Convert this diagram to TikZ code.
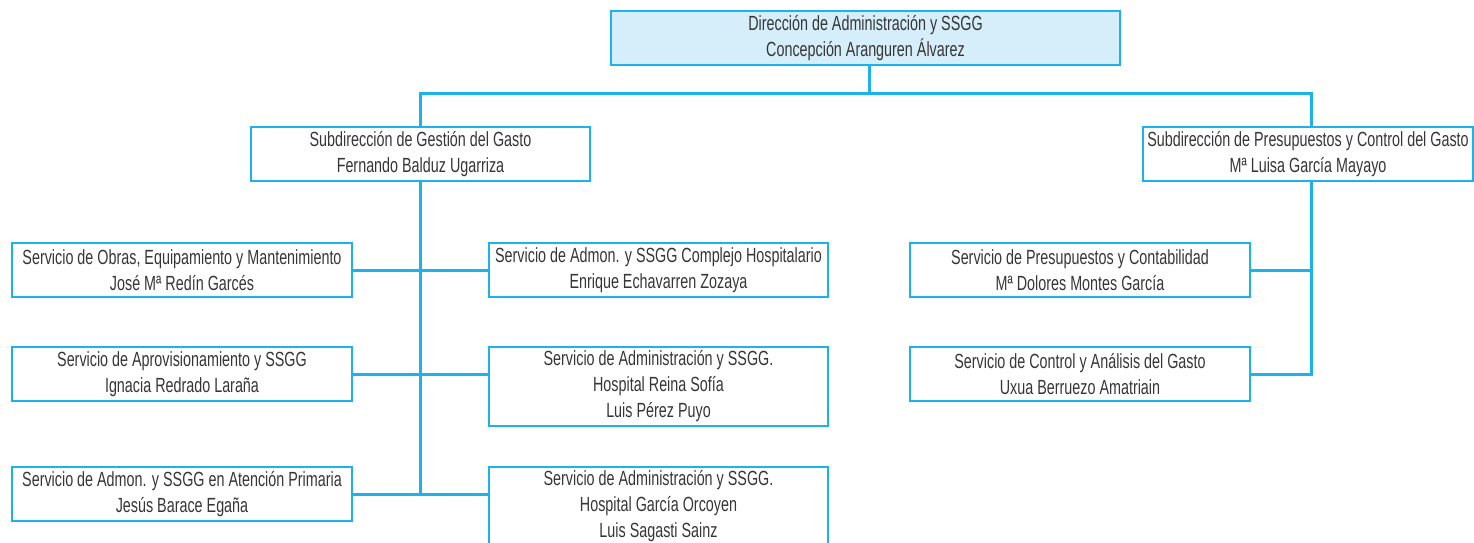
\documentclass[tikz,border=0pt]{standalone}
\usepackage{fontspec}
\setmainfont[FakeStretch=0.7]{Liberation Sans}
\definecolor{lineblue}{HTML}{1BB3E9}
\definecolor{topfill}{HTML}{D5EEF9}
\definecolor{txt}{HTML}{363636}
\begin{document}
\begin{tikzpicture}[x=1pt,y=-1pt,
  box/.style={draw=lineblue, line width=1.4pt, rectangle, inner sep=0pt, align=center,
    text=txt, font=\fontsize{20.5}{26}\selectfont},
  conn/.style={draw=lineblue, line width=3pt}]
\useasboundingbox (0,0) rectangle (1474,542);
\node[box, fill=topfill, minimum width=509pt, minimum height=54pt] (top) at (865.5,38) {Dirección de Administración y SSGG\\Concepción Aranguren Álvarez};
\node[box, minimum width=339pt, minimum height=54pt] (gest) at (420.5,154) {Subdirección de Gestión del Gasto\\Fernando Balduz Ugarriza};
\node[box, minimum width=330pt, minimum height=54pt] (pres) at (1308,154) {Subdirección de Presupuestos y Control del Gasto\\Mª Luisa García Mayayo};
\node[box, minimum width=340pt, minimum height=54pt] (L1) at (182,270) {Servicio de Obras, Equipamiento y Mantenimiento\\José Mª Redín Garcés};
\node[box, minimum width=340pt, minimum height=54pt] (L2) at (182,374) {Servicio de Aprovisionamiento y SSGG\\Ignacia Redrado Laraña};
\node[box, minimum width=340pt, minimum height=54pt] (L3) at (182,494) {Servicio de Admon. y SSGG en Atención Primaria\\Jesús Barace Egaña};
\node[box, minimum width=339pt, minimum height=54pt] (R1) at (658.5,270) {Servicio de Admon. y SSGG Complejo Hospitalario\\Enrique Echavarren Zozaya};
\node[box, minimum width=339pt, minimum height=79pt] (R2) at (658.5,386.5) {Servicio de Administración y SSGG.\\Hospital Reina Sofía\\Luis Pérez Puyo};
\node[box, minimum width=339pt, minimum height=79pt] (R3) at (658.5,506.5) {Servicio de Administración y SSGG.\\Hospital García Orcoyen\\Luis Sagasti Sainz};
\node[box, minimum width=340pt, minimum height=54pt] (P1) at (1080,270) {Servicio de Presupuestos y Contabilidad\\Mª Dolores Montes García};
\node[box, minimum width=340pt, minimum height=54pt] (P2) at (1080,374) {Servicio de Control y Análisis del Gasto\\Uxua Berruezo Amatriain};
\coordinate (tj) at (869,93);
\coordinate (pj) at (1311,93);
\coordinate (gj) at (420,93);
\draw[conn] (top.south -| tj) -- (tj);
\draw[conn] (gest.north -| gj) -- (gj) -- (pj) -- (pres.north -| pj);
\draw[conn] (gest.south -| gj) -- (L3.east -| gj);
\draw[conn] (L1.east) -- (R1.west);
\draw[conn] (L2.east) -- (L2.east -| R2.west);
\draw[conn] (L3.east) -- (L3.east -| R3.west);
\draw[conn] (pres.south -| pj) -- (P2.east -| pj) -- (P2.east);
\draw[conn] (P1.east) -- (P1.east -| pj);
\end{tikzpicture}
\end{document}
